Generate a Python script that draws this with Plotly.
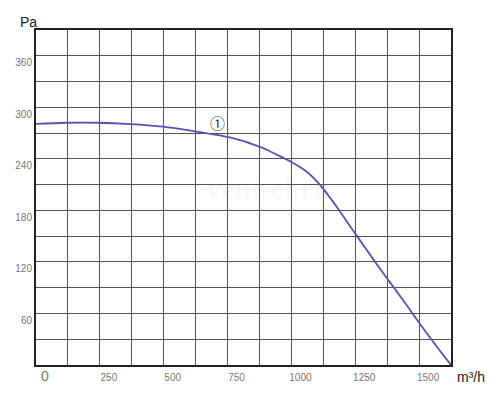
import plotly.graph_objects as go

# Data
flow = [0, 120, 238, 370, 497, 629, 760, 877, 942, 998, 1060, 1112, 1177, 1236, 1340, 1432, 1530, 1625]
pressure = [280.6, 282, 282, 280.5, 277.4, 271.6, 264.9, 254, 245, 236.7, 225, 209.6, 184.3, 159, 115, 77.6, 37, 0]

x_tickvals = [0, 250, 500, 750, 1000, 1250, 1500]
x_ticktext = ['<span style="font-size:14px">0</span>', "250", "500", "750", "1000", "1250", "1500"]
y_tickvals = [60, 120, 180, 240, 300, 360]
y_ticktext = ["60", "120", "180", "240", "300", "360"]

curve_label = "①"
label_pos = (710, 282)

fig = go.Figure()
fig.add_trace(go.Scatter(
    x=flow, y=pressure, mode="lines",
    line=dict(color="#5a52b2", width=1.8, shape="spline", smoothing=1.0),
    hoverinfo="skip", showlegend=False,
))

grid_color = "#525252"
fig.update_layout(
    width=500, height=404,
    margin=dict(l=36, r=49, t=30, b=39),
    paper_bgcolor="white", plot_bgcolor="white",
    font=dict(family="Liberation Sans, Arial, sans-serif", color="#777"),
    xaxis=dict(
        range=[0, 1625], tickvals=x_tickvals, ticktext=x_ticktext,
        showgrid=True, gridcolor=grid_color, gridwidth=1,
        minor=dict(dtick=125, tick0=0, showgrid=True, gridcolor=grid_color, gridwidth=1),
        showline=True, linecolor="#222", linewidth=2, mirror=True,
        ticks="", tickfont=dict(size=10, color="#777"),
        ticklabelshift=9, ticklabelstandoff=2, zeroline=False, fixedrange=True,
    ),
    yaxis=dict(
        range=[0, 390], tickvals=y_tickvals, ticktext=y_ticktext,
        showgrid=True, gridcolor=grid_color, gridwidth=1,
        minor=dict(dtick=30, tick0=0, showgrid=True, gridcolor=grid_color, gridwidth=1),
        showline=True, linecolor="#222", linewidth=2, mirror=True,
        ticks="", tickfont=dict(size=10, color="#777"),
        ticklabelshift=7, ticklabelstandoff=0, zeroline=False, fixedrange=True,
    ),
    annotations=[
        dict(x=910, y=205, xref="x", yref="y", text="<b>vent-el.ru</b>", showarrow=False,
             font=dict(family="Liberation Serif, serif", size=30, color="rgba(0,0,0,0.035)")),
        dict(x=label_pos[0], y=label_pos[1], xref="x", yref="y", text=curve_label, showarrow=False,
             font=dict(family="Noto Sans CJK SC, DejaVu Sans", size=15, color="#333")),
        dict(x=18, y=22, text="Pa", showarrow=False, xanchor="left", yanchor="middle",
             font=dict(size=14, color="#222")),
        dict(x=455, y=377, text="m³/h", showarrow=False, xanchor="left", yanchor="middle",
             font=dict(size=14, color="#222")),
    ],
)

# convert pixel-positioned labels to paper coords
pw, ph = 500 - 36 - 49, 404 - 30 - 39
for a in fig.layout.annotations:
    if a.text in ("Pa", "m³/h"):
        px, py = a.x, a.y
        a.x = (px - 36) / pw
        a.y = (404 - 39 - py) / ph
        a.xref = "paper"
        a.yref = "paper"

fig.write_html("out.html")
